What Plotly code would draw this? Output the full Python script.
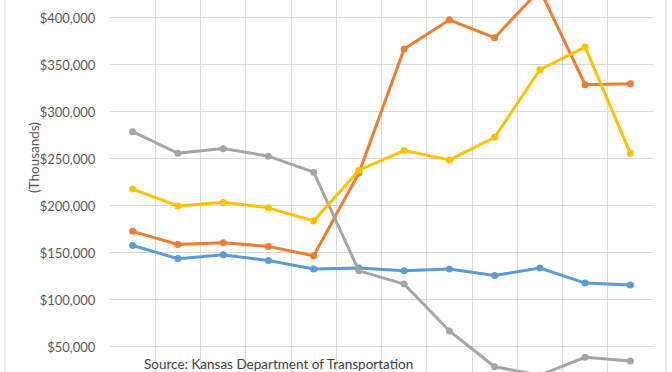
import plotly.graph_objects as go

categories = ["2006", "2007", "2008", "2009", "2010", "2011",
              "2012", "2013", "2014", "2015", "2016", "2017"]

series_blue = [158000, 144000, 148000, 142000, 133000, 134000,
               131000, 133000, 126000, 134000, 118000, 116000]
series_orange = [173000, 159000, 161000, 157000, 147000, 235000,
                 367000, 398000, 379000, 430000, 329000, 330000]
series_gray = [279000, 256000, 261000, 253000, 236000, 131000,
               117000, 67000, 29000, 20000, 39000, 35000]
series_yellow = [218000, 200000, 204000, 198000, 184000, 238000,
                 259000, 249000, 273000, 345000, 369000, 256000]

tick_vals = [50000, 100000, 150000, 200000, 250000, 300000, 350000, 400000]
tick_text = ["$50,000", "$100,000", "$150,000", "$200,000",
             "$250,000", "$300,000", "$350,000", "$400,000"]

series = [
    ("Series A", series_blue, "#5B9BD5"),
    ("Series B", series_orange, "#ED7D31"),
    ("Series C", series_gray, "#A5A5A5"),
    ("Series D", series_yellow, "#FFC000"),
]

fig = go.Figure()
for name, vals, color in series:
    fig.add_trace(go.Scatter(
        x=categories, y=vals, name=name, mode="lines+markers",
        line=dict(color=color, width=3),
        marker=dict(color=color, size=7),
        showlegend=False,
        cliponaxis=True,
    ))

grid = "#D9D9D9"
fig.update_layout(
    width=672, height=372,
    margin=dict(l=110, r=19, t=0, b=0),
    paper_bgcolor="white", plot_bgcolor="white",
    font=dict(family="Lato", size=13, color="#595959"),
    xaxis=dict(
        type="category", tickson="boundaries", range=[-0.5, 11.5],
        showgrid=True, gridcolor=grid, gridwidth=1,
        showticklabels=False, ticks="", zeroline=False,
        showline=True, linecolor=grid, mirror=True,
    ),
    yaxis=dict(
        range=[23400, 419100], tickvals=tick_vals, ticktext=tick_text,
        showgrid=True, gridcolor=grid, gridwidth=1, zeroline=False,
        ticks="outside", ticklen=11, tickcolor="rgba(0,0,0,0)",
        tickfont=dict(family="Lato", size=13, color="#595959"),
        showline=False,
    ),
    shapes=[dict(type="rect", xref="paper", yref="paper",
                 x0=(5 - 110) / 543, x1=(666 - 110) / 543, y0=-0.1, y1=1.1,
                 line=dict(color="#D9D9D9", width=1), layer="below")],
    annotations=[
        dict(text="(Thousands)", textangle=-90,
             xref="paper", yref="paper", x=(34 - 110) / 543,
             y=(372 - 158) / 372, xanchor="center", yanchor="middle",
             showarrow=False,
             font=dict(family="Lato", size=13.5, color="#595959")),
        dict(text="Source: Kansas Department of Transportation",
             xref="paper", yref="paper", x=(142 - 110) / 543,
             y=(372 - 364) / 372, xanchor="left", yanchor="middle",
             showarrow=False,
             font=dict(family="Lato", size=13.5, color="#404040")),
    ],
)

fig.write_html("out.html", config={"displayModeBar": False},
               post_script="document.body.style.margin='0';")
